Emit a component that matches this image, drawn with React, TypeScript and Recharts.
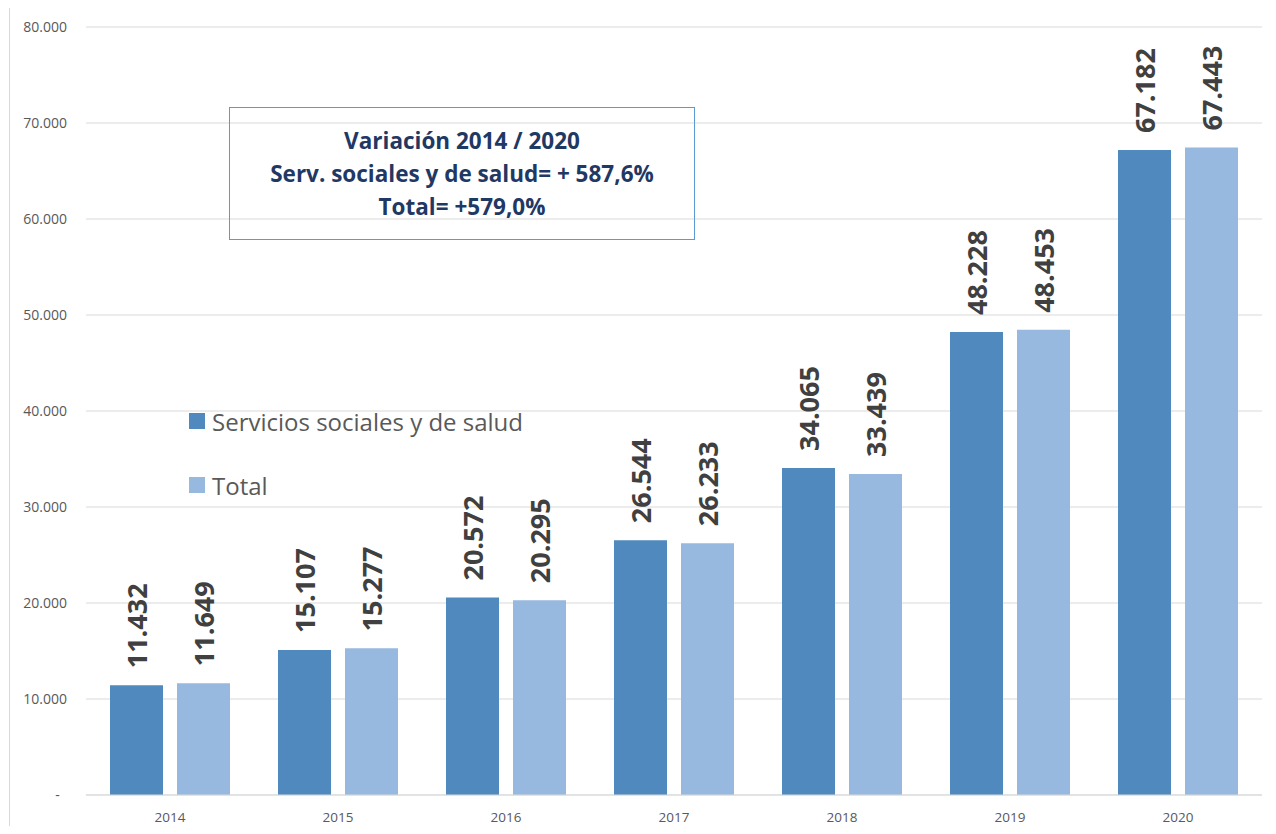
import React from "react";
import { BarChart, Bar, XAxis, YAxis, CartesianGrid, LabelList } from "recharts";

const years = ["2014", "2015", "2016", "2017", "2018", "2019", "2020"];
const serviciosValues = [11432, 15107, 20572, 26544, 34065, 48228, 67182];
const totalValues = [11649, 15277, 20295, 26233, 33439, 48453, 67443];
const yTicks = [0, 10000, 20000, 30000, 40000, 50000, 60000, 70000, 80000];
const seriesNames = ["Servicios sociales y de salud", "Total"];
const boxLines = ["Variación 2014 / 2020", "Serv. sociales y de salud= + 587,6%", "Total= +579,0%"];

const COLORS = ["#4f89bd", "#97b9e0"];

const data = years.map((y, i) => ({
  year: y,
  servicios: serviciosValues[i],
  total: totalValues[i],
}));

const fmt = (v: number) => String(v).replace(/\B(?=(\d{3})+(?!\d))/g, ".");

const renderLabel = (props: any) => {
  const x = Number(props.x);
  const y = Number(props.y);
  const w = Number(props.width);
  const cx = x + w / 2;
  const cy = y - 17;
  return (
    <text
      x={cx}
      y={cy}
      transform={`rotate(-90 ${cx} ${cy})`}
      textAnchor="start"
      dominantBaseline="central"
      fill="#404040"
      fontSize={27}
      fontWeight={700}
      fontFamily="'Open Sans', sans-serif"
    >
      {fmt(Number(props.value))}
    </text>
  );
};

export default function App() {
  return (
    <div
      style={{
        position: "relative",
        width: 1268,
        height: 818,
        overflow: "hidden",
        fontFamily: "'Open Sans', sans-serif",
      }}
    >
      <div
        style={{
          position: "absolute",
          left: 1,
          top: -1,
          width: 2000,
          height: 2000,
          border: "1px solid #d9d9d9",
        }}
      />
      <BarChart
        width={1268}
        height={818}
        data={data}
        margin={{ top: 19, right: 14, left: 0, bottom: 0 }}
        barGap={14}
        barCategoryGap={24}
      >
        <CartesianGrid vertical={false} stroke="#d9d9d9" />
        <XAxis
          dataKey="year"
          height={31}
          axisLine={{ stroke: "#d9d9d9" }}
          tickLine={false}
          tickSize={0}
          tickMargin={17}
          tick={{ fill: "#595959", fontSize: 13.5 }}
        />
        <YAxis
          width={78}
          domain={[0, 80000]}
          ticks={yTicks}
          axisLine={false}
          tickLine={false}
          tickSize={0}
          tickMargin={19}
          tick={{ fill: "#595959", fontSize: 14 }}
          tickFormatter={(v: number) => (v === 0 ? "-\u00a0\u00a0" : fmt(v))}
        />
        <Bar dataKey="servicios" name={seriesNames[0]} fill={COLORS[0]} isAnimationActive={false}>
          <LabelList dataKey="servicios" content={renderLabel} />
        </Bar>
        <Bar dataKey="total" name={seriesNames[1]} fill={COLORS[1]} isAnimationActive={false}>
          <LabelList dataKey="total" content={renderLabel} />
        </Bar>
      </BarChart>

      <div
        style={{
          position: "absolute",
          left: 221,
          top: 99,
          width: 464,
          height: 131,
          border: "1px solid #5b9bd5",
          display: "flex",
          flexDirection: "column",
          alignItems: "center",
          justifyContent: "center",
          color: "#1f3864",
          fontWeight: 700,
          fontSize: 22.5,
          lineHeight: "33px",
          background: "transparent",
        }}
      >
        {boxLines.map((l) => (
          <div key={l}>{l}</div>
        ))}
      </div>

      {seriesNames.map((name, i) => (
        <div
          key={name}
          style={{
            position: "absolute",
            left: 181,
            top: 397 + i * 64,
            height: 32,
            display: "flex",
            alignItems: "center",
            color: "#595959",
            fontSize: 24,
            whiteSpace: "nowrap",
          }}
        >
          <span
            style={{
              display: "inline-block",
              width: 16,
              height: 16,
              background: COLORS[i],
              marginRight: 7,
            }}
          />
          <span>{name}</span>
        </div>
      ))}
    </div>
  );
}
